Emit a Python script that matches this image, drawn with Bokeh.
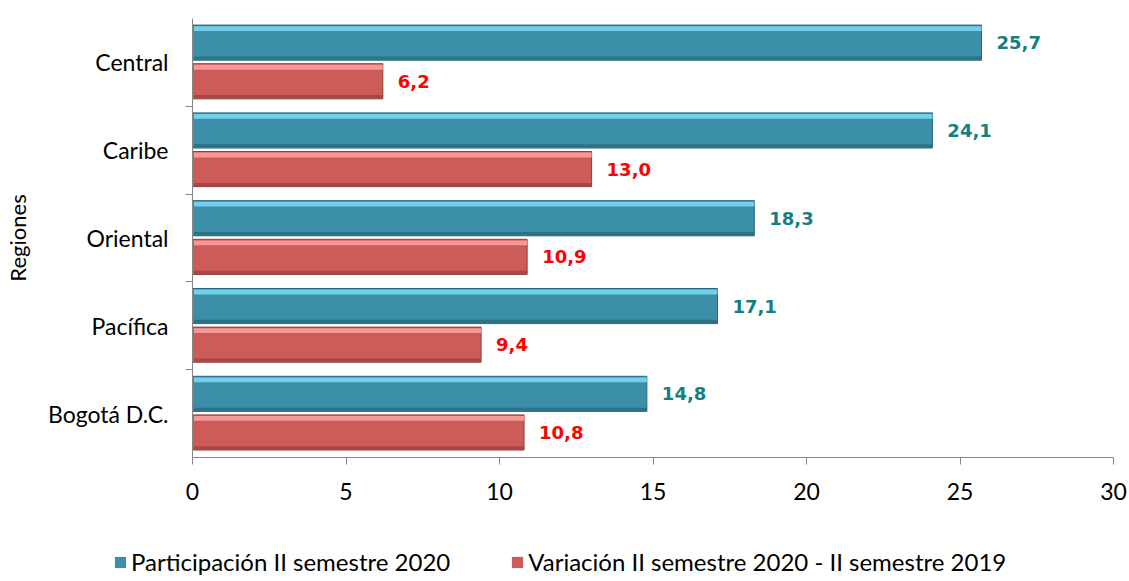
from bokeh.plotting import figure
from bokeh.models import (FactorRange, Range1d, ColumnDataSource, LinearAxis,
                          CategoricalAxis, FixedTicker, Legend, LegendItem, CategoricalScale)
from bokeh.transform import dodge
from bokeh.core.properties import value
from bokeh.embed import file_html
from bokeh.resources import INLINE

regions = ["Central", "Caribe", "Oriental", "Pacífica", "Bogotá D.C."]
participacion = [25.7, 24.1, 18.3, 17.1, 14.8]
variacion = [6.2, 13.0, 10.9, 9.4, 10.8]
series_names = ["Participación II semestre 2020",
                "Variación II semestre 2020 - II semestre 2019"]
x_ticks = [0, 5, 10, 15, 20, 25, 30]
y_axis_title = "Regiones"


def fmt(v):
    return f"{v:.1f}".replace(".", ",")


src = ColumnDataSource(dict(
    region=regions,
    part=participacion,
    var=variacion,
    part_lbl=[fmt(v) for v in participacion],
    var_lbl=[fmt(v) for v in variacion],
))

FONT = "Lato"
LBL_FONT = "DejaVu Sans"
BLUE, BLUE_HI, BLUE_LO, BLUE_EDGE = "#3b8fa8", "#72d0ec", "#2d7187", "#2a6577"
RED, RED_HI, RED_LO, RED_EDGE = "#cd5b58", "#f59a96", "#a84644", "#8f3d3b"

p = figure(width=1129, height=541,
           y_range=FactorRange(factors=list(reversed(regions)), range_padding=0),
           x_range=Range1d(0, 30),
           output_backend="svg", toolbar_location=None,
           x_axis_location=None, y_axis_location=None,
           min_border_left=191, min_border_top=18,
           min_border_right=16, min_border_bottom=84)
p.outline_line_color = None
p.grid.visible = False
p.background_fill_color = "white"
p.border_fill_color = "white"

# y boundary ticks: a factor range whose factor centres fall on the category boundaries
bounds = [f"b{i}" for i in range(len(regions) + 1)]
p.extra_y_ranges = {"bounds": FactorRange(factors=bounds, range_padding=-0.5,
                                          range_padding_units="absolute")}
p.extra_y_scales = {"bounds": CategoricalScale()}
tick_axis = CategoricalAxis(y_range_name="bounds",
                            major_label_text_font_size="0px",
                            major_label_standoff=0,
                            major_tick_out=7, major_tick_in=0,
                            axis_line_color="#868686", major_tick_line_color="#868686")
p.add_layout(tick_axis, "left")

cat_axis = CategoricalAxis(axis_line_color=None, major_tick_line_color=None,
                           major_tick_out=0, major_tick_in=0,
                           major_label_text_font=FONT,
                           major_label_text_font_size="23px",
                           major_label_text_color="black",
                           major_label_standoff=17,
                           axis_label=y_axis_title,
                           axis_label_text_font=FONT,
                           axis_label_text_font_size="22px",
                           axis_label_text_font_style="normal",
                           axis_label_text_color="black",
                           axis_label_standoff=14)
p.add_layout(cat_axis, "left")

x_axis = LinearAxis(ticker=FixedTicker(ticks=x_ticks, minor_ticks=[]),
                    axis_line_color="#868686", major_tick_line_color="#868686",
                    major_tick_out=7, major_tick_in=0,
                    minor_tick_out=0, minor_tick_in=0,
                    major_label_text_font=FONT,
                    major_label_text_font_size="23px",
                    major_label_text_color="black",
                    major_label_standoff=18)
p.add_layout(x_axis, "below")

H = 0.40
OFF_B = 0.225
OFF_R = -0.215


def bevel_bars(fig, field, off, base, hi, lo, edge):
    main = fig.hbar(y=dodge("region", off, range=fig.y_range), left=0, right=field,
                    height=H, fill_color=base, line_color=edge, line_width=1, source=src)
    fig.hbar(y=dodge("region", off + H / 2 - 0.04, range=fig.y_range), left=0.05, right=field,
             height=0.055, fill_color=hi, line_color=None, source=src)
    fig.hbar(y=dodge("region", off - H / 2 + 0.025, range=fig.y_range), left=0.05, right=field,
             height=0.035, fill_color=lo, line_color=None, source=src)
    return main


bevel_bars(p, "part", OFF_B, BLUE, BLUE_HI, BLUE_LO, BLUE_EDGE)
bevel_bars(p, "var", OFF_R, RED, RED_HI, RED_LO, RED_EDGE)

p.text(x="part", y=dodge("region", OFF_B, range=p.y_range), text="part_lbl",
       x_offset=15, text_baseline="middle", text_align="left",
       text_font=value(LBL_FONT), text_font_style="bold", text_font_size="18px",
       text_color="#13807f", source=src)
p.text(x="var", y=dodge("region", OFF_R, range=p.y_range), text="var_lbl",
       x_offset=15, text_baseline="middle", text_align="left",
       text_font=value(LBL_FONT), text_font_style="bold", text_font_size="18px",
       text_color="#ff0000", source=src)

# Legend strip: a separate root (not frame-aligned) so the legend can start left of the axis
lg = figure(width=1129, height=36,
            y_range=FactorRange(factors=list(reversed(regions))),
            x_range=Range1d(-60, -30),
            output_backend="svg", toolbar_location=None,
            x_axis_location=None, y_axis_location=None,
            min_border=0)
lg.outline_line_color = None
lg.grid.visible = False
lb = lg.hbar(y="region", left=0, right="part", height=H,
             fill_color=BLUE, line_color=None, source=src)
lr = lg.hbar(y="region", left=0, right="var", height=H,
             fill_color=RED, line_color=None, source=src)

legend = Legend(items=[LegendItem(label=series_names[0], renderers=[lb]),
                       LegendItem(label=series_names[1], renderers=[lr])],
                orientation="horizontal", location=(113, 1),
                glyph_width=14, glyph_height=14, label_standoff=4,
                spacing=60, padding=0, margin=0,
                label_text_font=FONT, label_text_font_size="24px",
                label_text_color="black",
                border_line_color=None, background_fill_alpha=0)
lg.add_layout(legend, "center")

open("out.html", "w").write(file_html([p, lg], INLINE))
